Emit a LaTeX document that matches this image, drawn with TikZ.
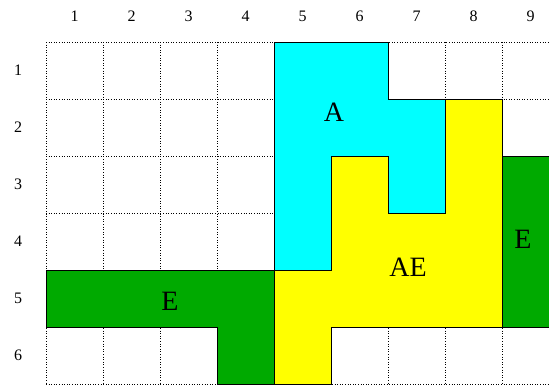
\documentclass[tikz,border=0pt]{standalone}
\usepackage{fontspec}
\setmainfont{Liberation Serif}
\definecolor{cyanA}{RGB}{0,255,255}
\definecolor{yellowAE}{RGB}{255,255,0}
\definecolor{greenE}{RGB}{0,170,0}
\tikzset{
  gridline/.style={line width=0.6pt, dash pattern=on 1pt off 1.6pt},
  region/.style={draw=black, line width=0.7pt},
  axislabel/.style={font=\fontsize{16}{16}\selectfont},
  regionlabel/.style={font=\fontsize{28}{28}\selectfont}
}
\begin{document}
\begin{tikzpicture}[x=1pt,y=-1pt]
\useasboundingbox (0,0) rectangle (549,389);
\clip (0,0) rectangle (549,389);
\fill[white] (0,0) rectangle (549,389);
% grid
\foreach \k in {0,...,9} \draw[gridline] ({46+57*\k},42) -- ({46+57*\k},384);
\foreach \k in {0,...,6} \draw[gridline] (46,{42+57*\k}) -- (559,{42+57*\k});
% axis labels
\foreach \k in {1,...,9} \node[axislabel] (c\k) at ({46+57*\k-28.5},16) {\k};
\foreach \k in {1,...,6} \node[axislabel] (r\k) at (18,{42+57*\k-28.5}) {\k};
% region A
\filldraw[region, fill=cyanA] (274,42) -- (388,42) -- (388,99) -- (445,99) -- (445,213) -- (388,213) -- (388,156) -- (331,156) -- (331,270) -- (274,270) -- cycle;
% region AE
\filldraw[region, fill=yellowAE] (445,99) -- (502,99) -- (502,327) -- (331,327) -- (331,384) -- (274,384) -- (274,270) -- (331,270) -- (331,156) -- (388,156) -- (388,213) -- (445,213) -- cycle;
% region E right
\filldraw[region, fill=greenE] (502,156) -- (559,156) -- (559,327) -- (502,327) -- cycle;
% region E left
\filldraw[region, fill=greenE] (46,270) -- (274,270) -- (274,384) -- (217,384) -- (217,327) -- (46,327) -- cycle;
% labels
\node[regionlabel] (la) at (334,112) {A};
\node[regionlabel] (lae) at (408,267) {AE};
\node[regionlabel] (le1) at (170,301) {E};
\node[regionlabel] (le2) at (523,239) {E};
\end{tikzpicture}
\end{document}
